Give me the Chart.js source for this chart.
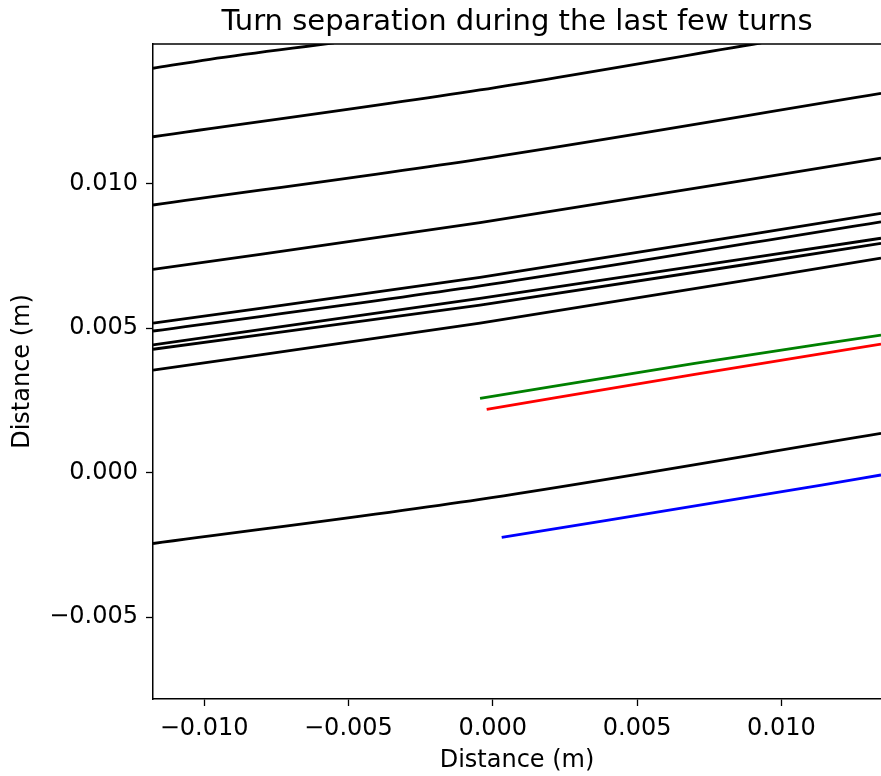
<!DOCTYPE html>
<html>
<head>
<meta charset="utf-8">
<script src="https://cdn.jsdelivr.net/npm/chart.js@4/dist/chart.umd.min.js"></script>
<style>
  html, body { margin: 0; padding: 0; background: #fff; }
  #wrap { width: 881px; height: 776px; }
</style>
</head>
<body>
<div id="wrap"><canvas id="turnChart" width="881" height="776"></canvas></div>
<script>
// values in metres
const xTicks = [-0.010, -0.005, 0.000, 0.005, 0.010];
const yTicks = [-0.005, 0.000, 0.005, 0.010];
const titleText = 'Turn separation during the last few turns';

// sample x positions for the black turns (left edge, middle, right edge)
const turnX = [-0.01177, -0.00044, 0.01345];

// the two top turns run out through the top edge
const turn1X = [-0.01177, -0.00980, -0.00550];
const turn1Y = [0.01399, 0.01430, 0.01487];
const turn2X = [-0.01177, -0.00044, 0.00930];
const turn2Y = [0.01162, 0.01324, 0.01487];

const turn3Y = [0.00926, 0.01085, 0.01312];
const turn4Y = [0.00703, 0.00865, 0.01088];
const turn5Y = [0.00517, 0.00676, 0.00897];
const turn6Y = [0.00490, 0.00646, 0.00868];
const turn7Y = [0.00442, 0.00603, 0.00811];
const turn8Y = [0.00427, 0.00580, 0.00793];
const turn9Y = [0.00355, 0.00517, 0.00742];
const turn10Y = [-0.00245, -0.00092, 0.00136];

// coloured segments
const greenX = [-0.00044, 0.00700, 0.01345];
const greenY = [0.00257, 0.00378, 0.00476];
const redX = [-0.00021, 0.00700, 0.01345];
const redY = [0.00219, 0.00340, 0.00445];
const blueX = [0.00031, 0.01139, 0.01345];
const blueY = [-0.00224, -0.00043, -0.00008];

const toPoints = (xs, ys) => xs.map((x, i) => ({ x: x, y: ys[i] }));

const line = (xs, ys, color) => ({
  data: toPoints(xs, ys),
  borderColor: color,
  borderWidth: 2.8,
  showLine: true,
  pointRadius: 0,
  fill: false,
  cubicInterpolationMode: 'monotone',
  clip: 0
});

const blackTurns = [turn3Y, turn4Y, turn5Y, turn6Y, turn7Y, turn8Y, turn9Y, turn10Y];

const datasets = [
  line(turn1X, turn1Y, '#000000'),
  line(turn2X, turn2Y, '#000000'),
  ...blackTurns.map(ys => line(turnX, ys, '#000000')),
  line(greenX, greenY, '#008000'),
  line(redX, redY, '#ff0000'),
  line(blueX, blueY, '#0000ff')
];

const fmt = v => {
  const s = Math.abs(v).toFixed(3);
  return v < -1e-9 ? '\u2212' + s : s;
};

// top spine and a title centred over the plot area (like matplotlib)
const frameAndTitle = {
  id: 'frameAndTitle',
  afterDraw(chart) {
    const a = chart.chartArea;
    const c = chart.ctx;
    c.save();
    c.strokeStyle = '#000';
    c.lineWidth = 1.5;
    c.beginPath();
    c.moveTo(a.left - 0.75, a.top);
    c.lineTo(a.right, a.top);
    c.stroke();
    c.fillStyle = '#000';
    c.font = '29px "DejaVu Sans"';
    c.textAlign = 'center';
    c.textBaseline = 'alphabetic';
    c.fillText(titleText, (a.left + a.right) / 2, 30);
    c.restore();
  }
};

const font = { family: 'DejaVu Sans', size: 24 };

new Chart(document.getElementById('turnChart').getContext('2d'), {
  type: 'scatter',
  data: { datasets: datasets },
  options: {
    responsive: false,
    animation: false,
    events: [],
    layout: { padding: { top: 44, left: 0, right: 0, bottom: 0 } },
    plugins: {
      legend: { display: false },
      tooltip: { enabled: false },
      title: { display: false }
    },
    scales: {
      x: {
        type: 'linear',
        min: -0.01177,
        max: 0.01345,
        afterBuildTicks: s => { s.ticks = xTicks.map(v => ({ value: v })); },
        afterFit: s => { s.height = 77; },
        ticks: { color: '#000', font: font, padding: 8, maxRotation: 0, autoSkip: false, callback: v => fmt(v) },
        grid: { display: true, drawOnChartArea: false, drawTicks: true, tickLength: 7, tickColor: '#000', tickWidth: 1.3 },
        border: { display: true, color: '#000', width: 1.5 },
        title: { display: true, text: 'Distance (m)', color: '#000', font: font, padding: { top: 0, bottom: 1 } }
      },
      y: {
        type: 'linear',
        min: -0.00783,
        max: 0.01483,
        afterBuildTicks: s => { s.ticks = yTicks.map(v => ({ value: v })); },
        afterFit: s => { s.width = 153; },
        ticks: { color: '#000', font: font, padding: 8, autoSkip: false, callback: v => fmt(v) },
        grid: { display: true, drawOnChartArea: false, drawTicks: true, tickLength: 7, tickColor: '#000', tickWidth: 1.3 },
        border: { display: true, color: '#000', width: 1.5 },
        title: { display: true, text: 'Distance (m)', color: '#000', font: font, padding: { top: 8, bottom: 0 } }
      }
    }
  },
  plugins: [frameAndTitle]
});
</script>
</body>
</html>
